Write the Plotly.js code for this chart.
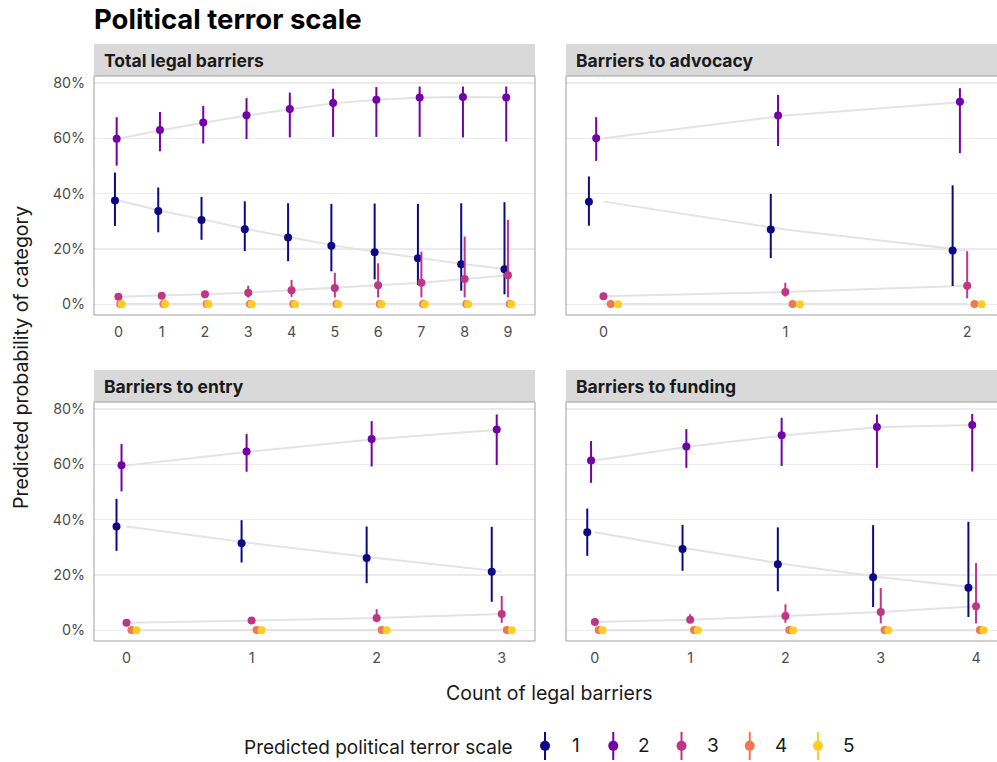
<!DOCTYPE html>
<html>
<head>
<meta charset="utf-8">
<script src="https://cdn.plot.ly/plotly-3.0.1.min.js"></script>
<style>html,body{margin:0;padding:0;background:#fff;}#chart{width:997px;height:762px;}</style>
</head>
<body>
<div id="chart"></div>
<script>
// ---------- data ----------
const categories = ['1', '2', '3', '4', '5'];
const colors = ['#0D0887', '#7301A8', '#BD3786', '#ED7953', '#FCCE25'];
const panelTitles = ['Total legal barriers', 'Barriers to advocacy', 'Barriers to entry', 'Barriers to funding'];

// Total legal barriers (percent)
const totalX = [0, 1, 2, 3, 4, 5, 6, 7, 8, 9];
const totalEst = [
  [37.5, 33.7, 30.5, 27.1, 24.1, 21.2, 18.8, 16.6, 14.5, 12.7],
  [59.8, 63.0, 65.7, 68.3, 70.6, 72.7, 73.9, 74.7, 74.9, 74.7],
  [2.7, 3.1, 3.6, 4.2, 5.1, 5.9, 6.9, 7.8, 9.1, 10.5],
  [0.1, 0.1, 0.1, 0.1, 0.1, 0.1, 0.1, 0.1, 0.1, 0.1],
  [0.05, 0.05, 0.05, 0.05, 0.05, 0.05, 0.05, 0.05, 0.05, 0.05]
];
const totalLo = [
  [28.3, 26.0, 23.3, 19.2, 15.6, 11.9, 9.0, 7.0, 4.9, 3.6],
  [50.1, 55.3, 58.1, 59.7, 60.3, 60.5, 60.5, 60.5, 60.3, 58.8],
  [2.1, 2.4, 2.6, 2.4, 2.7, 2.5, 2.5, 2.5, 2.5, 2.5],
  [0.05, 0.05, 0.05, 0.05, 0.05, 0.05, 0.05, 0.05, 0.05, 0.05],
  [0.02, 0.02, 0.02, 0.02, 0.02, 0.02, 0.02, 0.02, 0.02, 0.02]
];
const totalHi = [
  [47.6, 42.2, 38.8, 37.2, 36.5, 36.3, 36.4, 36.3, 36.5, 36.9],
  [67.6, 69.5, 71.7, 74.5, 76.5, 77.9, 78.5, 78.7, 78.7, 78.7],
  [3.4, 3.9, 4.8, 6.7, 8.8, 11.4, 14.8, 19.0, 24.5, 30.5],
  [0.2, 0.2, 0.2, 0.2, 0.3, 0.3, 0.3, 0.4, 0.4, 0.5],
  [0.1, 0.1, 0.1, 0.1, 0.1, 0.1, 0.2, 0.2, 0.2, 0.2]
];

// Barriers to advocacy
const advocacyX = [0, 1, 2];
const advocacyEst = [
  [37.1, 27.0, 19.4],
  [60.0, 68.2, 73.2],
  [2.9, 4.4, 6.7],
  [0.1, 0.1, 0.1],
  [0.05, 0.05, 0.05]
];
const advocacyLo = [
  [28.4, 16.7, 6.6],
  [51.8, 57.2, 54.6],
  [2.2, 2.8, 2.2],
  [0.05, 0.05, 0.05],
  [0.02, 0.02, 0.02]
];
const advocacyHi = [
  [46.2, 39.9, 43.0],
  [67.6, 75.7, 78.1],
  [3.6, 7.8, 19.2],
  [0.2, 0.3, 0.5],
  [0.1, 0.1, 0.2]
];

// Barriers to entry
const entryX = [0, 1, 2, 3];
const entryEst = [
  [37.5, 31.5, 26.1, 21.2],
  [59.6, 64.6, 69.1, 72.6],
  [2.7, 3.5, 4.4, 5.9],
  [0.1, 0.1, 0.1, 0.1],
  [0.05, 0.05, 0.05, 0.05]
];
const entryLo = [
  [28.7, 24.5, 17.0, 10.3],
  [50.2, 57.3, 59.2, 59.7],
  [2.1, 2.8, 2.9, 2.7],
  [0.05, 0.05, 0.05, 0.05],
  [0.02, 0.02, 0.02, 0.02]
];
const entryHi = [
  [47.5, 39.8, 37.5, 37.4],
  [67.3, 70.9, 75.6, 78.0],
  [3.4, 4.3, 7.6, 12.4],
  [0.2, 0.2, 0.3, 0.4],
  [0.1, 0.1, 0.1, 0.2]
];

// Barriers to funding
const fundingX = [0, 1, 2, 3, 4];
const fundingEst = [
  [35.4, 29.4, 23.9, 19.2, 15.4],
  [61.4, 66.4, 70.5, 73.5, 74.2],
  [3.0, 3.8, 5.2, 6.6, 8.7],
  [0.1, 0.1, 0.1, 0.1, 0.1],
  [0.05, 0.05, 0.05, 0.05, 0.05]
];
const fundingLo = [
  [26.9, 21.5, 14.1, 8.4, 4.8],
  [53.3, 58.7, 59.4, 58.7, 57.4],
  [2.3, 2.6, 2.7, 2.5, 2.5],
  [0.05, 0.05, 0.05, 0.05, 0.05],
  [0.02, 0.02, 0.02, 0.02, 0.02]
];
const fundingHi = [
  [44.0, 38.1, 37.2, 38.0, 39.2],
  [68.4, 72.7, 76.8, 78.0, 78.2],
  [3.8, 5.8, 9.4, 15.3, 24.3],
  [0.2, 0.2, 0.3, 0.4, 0.5],
  [0.1, 0.1, 0.1, 0.2, 0.2]
];

const yTickVals = [0, 20, 40, 60, 80];
const yTickText = ['0%', '20%', '40%', '60%', '80%'];

// ---------- build ----------
const W = 997, H = 762;
const panels = [
  {x: totalX, est: totalEst, lo: totalLo, hi: totalHi, xa: 'x', ya: 'y'},
  {x: advocacyX, est: advocacyEst, lo: advocacyLo, hi: advocacyHi, xa: 'x2', ya: 'y2'},
  {x: entryX, est: entryEst, lo: entryLo, hi: entryHi, xa: 'x3', ya: 'y3'},
  {x: fundingX, est: fundingEst, lo: fundingLo, hi: fundingHi, xa: 'x4', ya: 'y4'}
];
const dodge = 0.04;
const traces = [];

panels.forEach(p => {
  // grey connecting lines (undodged)
  categories.forEach((c, i) => {
    traces.push({
      type: 'scatter', mode: 'lines', x: p.x, y: p.est[i],
      xaxis: p.xa, yaxis: p.ya, showlegend: false, hoverinfo: 'skip',
      line: {color: '#e3e3e3', width: 2}
    });
  });
});
panels.forEach(p => {
  categories.forEach((c, i) => {
    const off = (i - 2) * dodge;
    traces.push({
      type: 'scatter', mode: 'markers', name: c,
      x: p.x.map(v => v + off), y: p.est[i],
      xaxis: p.xa, yaxis: p.ya, showlegend: false,
      marker: {color: colors[i], size: 8},
      error_y: {
        type: 'data', symmetric: false,
        array: p.hi[i].map((v, k) => v - p.est[i][k]),
        arrayminus: p.est[i].map((v, k) => v - p.lo[i][k]),
        width: 0, thickness: 2, color: colors[i]
      }
    });
  });
});

// legend glyphs (point + vertical range line), on a dedicated hidden axis
categories.forEach((c, i) => {
  traces.push({
    type: 'scatter', mode: 'markers', x: [i], y: [0],
    xaxis: 'x5', yaxis: 'y5', showlegend: false, hoverinfo: 'skip',
    marker: {color: colors[i], size: 10},
    error_y: {type: 'data', array: [1], width: 0, thickness: 2, color: colors[i]}
  });
});

const font = 'Inter, "Noto Sans", sans-serif';
const tickFont = {family: font, size: 14.3, color: '#4d4d4d'};

function xax(domain, range, vals) {
  return {
    domain: domain, range: range, tickvals: vals, ticktext: vals.map(String),
    showgrid: false, zeroline: false, showline: false,
    ticks: 'outside', ticklen: 4, tickcolor: 'rgba(0,0,0,0)',
    tickfont: tickFont, fixedrange: true
  };
}
function yax(domain, labels) {
  return {
    domain: domain, range: [-3.87, 82.5], tickvals: yTickVals, ticktext: yTickText,
    showticklabels: labels, showgrid: true, gridcolor: '#ebebeb', gridwidth: 1.2,
    zeroline: false, showline: false,
    ticks: labels ? 'outside' : '', ticklen: 5, tickcolor: 'rgba(0,0,0,0)',
    tickfont: tickFont, fixedrange: true
  };
}

const L1 = 94 / W, R1 = 535 / W, L2 = 566 / W, R2 = 1;
const topDom = [1 - 315 / H, 1 - 76 / H];
const botDom = [1 - 641 / H, 1 - 402 / H];

const shapes = [];
const annotations = [];
const boxes = [
  {x0: L1, x1: R1, ptop: 76, pbot: 315, stop: 44},
  {x0: L2, x1: 1.01, ptop: 76, pbot: 315, stop: 44},
  {x0: L1, x1: R1, ptop: 402, pbot: 641, stop: 370},
  {x0: L2, x1: 1.01, ptop: 402, pbot: 641, stop: 370}
];
boxes.forEach((b, i) => {
  shapes.push({type: 'rect', xref: 'paper', yref: 'paper', x0: b.x0, x1: b.x1,
    y0: 1 - b.ptop / H, y1: 1 - b.stop / H, fillcolor: '#d9d9d9', line: {width: 0}, layer: 'below'});
  shapes.push({type: 'rect', xref: 'paper', yref: 'paper', x0: b.x0, x1: b.x1,
    y0: 1 - b.pbot / H, y1: 1 - b.ptop / H, fillcolor: 'rgba(0,0,0,0)', line: {color: '#a0a0a0', width: 1}});
  annotations.push({xref: 'paper', yref: 'paper', x: b.x0 + 8 / W, xanchor: 'left',
    y: 1 - (b.stop + 16.5) / H, yanchor: 'middle', showarrow: false, text: '<b>' + panelTitles[i] + '</b>',
    font: {family: font, size: 17.5, color: '#1a1a1a'}});
});

annotations.push({xref: 'paper', yref: 'paper', x: 21 / W, y: 1 - 358 / H, xanchor: 'center', yanchor: 'middle',
  textangle: -90, showarrow: false, text: 'Predicted probability of category',
  font: {family: font, size: 19.5, color: '#1a1a1a'}});
annotations.push({xref: 'paper', yref: 'paper', x: 549 / W, y: 1 - 693 / H, xanchor: 'center', yanchor: 'middle',
  showarrow: false, text: 'Count of legal barriers', font: {family: font, size: 19.5, color: '#1a1a1a'}});
annotations.push({xref: 'paper', yref: 'paper', x: 515 / W, y: 1 - 747 / H, xanchor: 'right', yanchor: 'middle',
  showarrow: false, text: 'Predicted political terror scale', font: {family: font, size: 19, color: '#1a1a1a'}});
categories.forEach((c, i) => {
  annotations.push({xref: 'x5', yref: 'y5', x: i, y: 0, xshift: 31, xanchor: 'center', yanchor: 'middle',
    showarrow: false, text: c, font: {family: font, size: 19, color: '#1a1a1a'}});
});

const layout = {
  width: W, height: H,
  margin: {l: 0, r: 0, t: 0, b: 0},
  paper_bgcolor: '#ffffff', plot_bgcolor: 'rgba(0,0,0,0)',
  showlegend: false,
  title: {text: '<b>Political terror scale</b>', xref: 'paper', x: 94 / W, xanchor: 'left',
    yref: 'paper', y: 1 - 19 / H, yanchor: 'middle', font: {family: font, size: 27.5, color: '#000'}},
  xaxis: Object.assign(xax([L1, R1], [-0.564, 9.625], totalX), {anchor: 'y'}),
  yaxis: Object.assign(yax(topDom, true), {anchor: 'x'}),
  xaxis2: Object.assign(xax([L2, R2], [-0.206, 2.164], advocacyX), {anchor: 'y2'}),
  yaxis2: Object.assign(yax(topDom, false), {anchor: 'x2'}),
  xaxis3: Object.assign(xax([L1, R1], [-0.26, 3.266], entryX), {anchor: 'y3'}),
  yaxis3: Object.assign(yax(botDom, true), {anchor: 'x3'}),
  xaxis4: Object.assign(xax([L2, R2], [-0.303, 4.22], fundingX), {anchor: 'y4'}),
  yaxis4: Object.assign(yax(botDom, false), {anchor: 'x4'}),
  xaxis5: {domain: [510.9 / W, 852.1 / W], range: [-0.5, 4.5], visible: false, anchor: 'y5', fixedrange: true},
  yaxis5: {domain: [2 / H, 30.3 / H], range: [-1, 1], visible: false, anchor: 'x5', fixedrange: true},
  shapes: shapes,
  annotations: annotations
};

Plotly.newPlot('chart', traces, layout, {displayModeBar: false, staticPlot: true});
</script>
</body>
</html>
